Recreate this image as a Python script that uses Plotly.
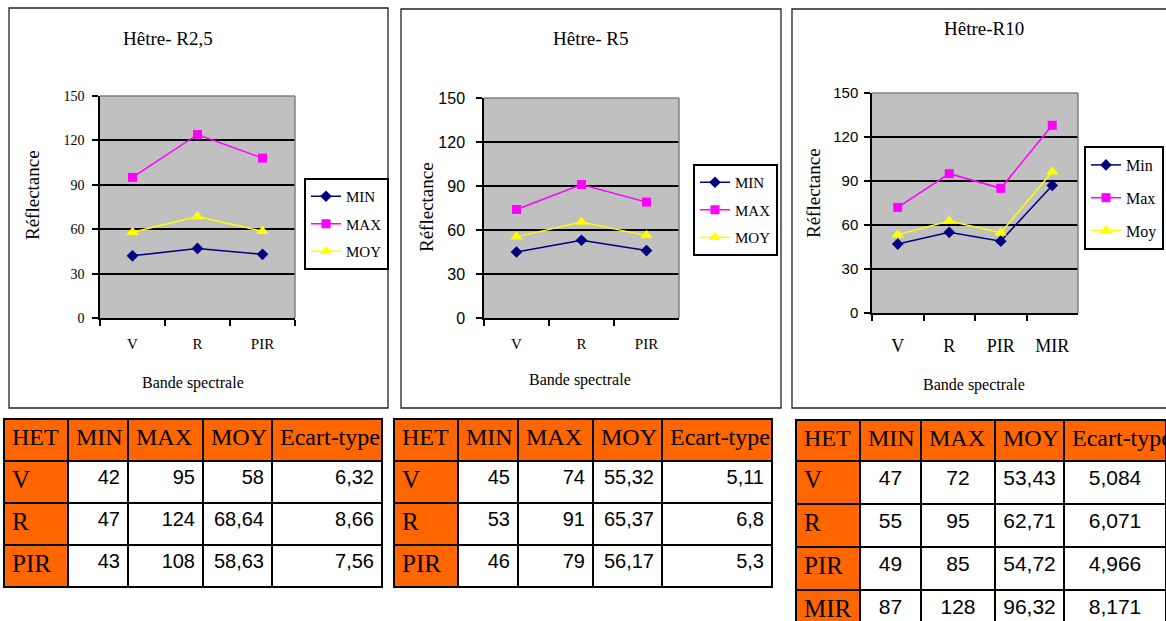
import plotly.graph_objects as go

# ---------------- data ----------------
titles = ["Hêtre- R2,5", "Hêtre- R5", "Hêtre-R10"]

cats_r25 = ["V", "R", "PIR"]
min_r25 = [42, 47, 43]
max_r25 = [95, 124, 108]
moy_r25 = [58, 68.64, 58.63]
et_r25 = [6.32, 8.66, 7.56]

cats_r5 = ["V", "R", "PIR"]
min_r5 = [45, 53, 46]
max_r5 = [74, 91, 79]
moy_r5 = [55.32, 65.37, 56.17]
et_r5 = [5.11, 6.8, 5.3]

cats_r10 = ["V", "R", "PIR", "MIR"]
min_r10 = [47, 55, 49, 87]
max_r10 = [72, 95, 85, 128]
moy_r10 = [53.43, 62.71, 54.72, 96.32]
et_r10 = [5.084, 6.071, 4.966, 8.171]

names_upper = ["MIN", "MAX", "MOY"]
names_title = ["Min", "Max", "Moy"]
table_header = ["HET", "MIN", "MAX", "MOY", "Ecart-type"]
y_ticks = [0, 30, 60, 90, 120, 150]

# ---------------- geometry / style ----------------
W, H = 1166, 621
def X(px): return px / W
def Y(py): return 1 - py / H

SERIF = "Liberation Serif"
SANS = "Liberation Sans"
ORANGE = "#FF6600"
GRAY_BG = "#C0C0C0"
colors = ["#000080", "#FF00FF", "#FFFF00"]
symbols = ["diamond", "square", "triangle-up"]
msizes = [9, 9, 11]

panels = [
    dict(cats=cats_r25, s=[min_r25, max_r25, moy_r25], names=names_upper,
         plot=(100, 295, 96, 318), box=(9, 388, 8, 408),
         title=(168, 38), ytitle=(32, 195), xtitle=(193, 383),
         legend=(304, 178), ytickfont=SERIF, ytfs=14, xtfs=15, xstand=11,
         ystand=5, lfs=15, lgap=5, tfs=19),
    dict(cats=cats_r5, s=[min_r5, max_r5, moy_r5], names=names_upper,
         plot=(484, 679, 98, 318), box=(401, 781, 9, 408),
         title=(590, 38), ytitle=(427, 207), xtitle=(580, 380),
         legend=(693, 164), ytickfont=SANS, ytfs=16, xtfs=15, xstand=11,
         ystand=8, lfs=15, lgap=5, tfs=19),
    dict(cats=cats_r10, s=[min_r10, max_r10, moy_r10], names=names_title,
         plot=(872, 1078, 93, 313), box=(792, 1175, 9, 408),
         title=(984, 29), ytitle=(813, 193), xtitle=(974, 385),
         legend=(1084, 146), ytickfont=SANS, ytfs=15, xtfs=18, xstand=16,
         ystand=3, lfs=16, lgap=9, tfs=19),
]

fig = go.Figure()
shapes = []
annotations = []

def label(text, px, py, size, angle=0):
    return dict(text=text, x=X(px), y=Y(py), xref="paper", yref="paper",
                xanchor="center", yanchor="middle", showarrow=False,
                textangle=angle,
                font=dict(family=SERIF, size=size, color="black"))

for i, p in enumerate(panels):
    k = "" if i == 0 else str(i + 1)
    xa, ya = "x" + k, "y" + k
    leg = "legend" + k
    for j in range(3):
        fig.add_trace(go.Scatter(
            x=p["cats"], y=p["s"][j], name=p["names"][j],
            mode="lines+markers", xaxis=xa, yaxis=ya, legend=leg,
            legendgroup=f"g{i}{j}",
            line=dict(color=colors[j], width=1.5),
            marker=dict(symbol=symbols[j], size=msizes[j], color=colors[j]),
        ))
    x0, x1, y0, y1 = p["plot"]
    n = len(p["cats"])
    fig.layout["xaxis" + k] = dict(
        domain=[X(x0), X(x1)], anchor=ya, type="category",
        range=[-0.5, n - 0.5], tickson="boundaries", ticks="outside",
        ticklen=6, tickcolor="black", tickwidth=1.5, showline=True,
        linecolor="black", linewidth=1.5, showgrid=False,
        tickfont=dict(family=SERIF, size=p["xtfs"], color="black"),
        ticklabelstandoff=p["xstand"], fixedrange=True)
    fig.layout["yaxis" + k] = dict(
        domain=[Y(y1), Y(y0)], anchor=xa, range=[0, 150],
        tickvals=y_ticks, ticks="outside", ticklen=6, tickcolor="black",
        tickwidth=1.5, showline=True, linecolor="black", linewidth=1.5,
        showgrid=True, gridcolor="black", gridwidth=1.5, zeroline=False,
        tickfont=dict(family=p["ytickfont"], size=p["ytfs"], color="black"),
        ticklabelstandoff=p["ystand"], fixedrange=True)
    lx, ly = p["legend"]
    fig.layout[leg] = dict(
        x=X(lx), y=Y(ly), xanchor="left", yanchor="top",
        bgcolor="white", bordercolor="black", borderwidth=2,
        font=dict(family=SERIF, size=p["lfs"], color="black"),
        traceorder="grouped", tracegroupgap=p["lgap"])
    # gray top/right border of the plot area
    shapes.append(dict(type="line", xref=xa + " domain", yref=ya + " domain",
                       x0=0, x1=1, y0=1, y1=1,
                       line=dict(color="#808080", width=1.5), layer="above"))
    shapes.append(dict(type="line", xref=xa + " domain", yref=ya + " domain",
                       x0=1, x1=1, y0=0, y1=1,
                       line=dict(color="#808080", width=1.5), layer="above"))
    # panel frame
    bx0, bx1, by0, by1 = p["box"]
    shapes.append(dict(type="rect", xref="paper", yref="paper",
                       x0=X(bx0), x1=X(bx1), y0=Y(by1), y1=Y(by0),
                       line=dict(color="#222222", width=1.3), layer="below"))
    annotations.append(label(titles[i], *p["title"], p["tfs"]))
    annotations.append(label("Réflectance", *p["ytitle"], 19, -90))
    annotations.append(label("Bande spectrale", *p["xtitle"], 16))

# ---------------- tables ----------------
def fr(v):
    return f"{v:g}".replace(".", ",")

tables = [
    dict(cats=cats_r25, cols=[min_r25, max_r25, moy_r25, et_r25],
         x=(4, 382), y=(419, 588), widths=[64, 60, 75, 69, 110],
         align="right", fs=20, hh=42, ch=42),
    dict(cats=cats_r5, cols=[min_r5, max_r5, moy_r5, et_r5],
         x=(394, 772), y=(419, 588), widths=[64, 60, 75, 69, 110],
         align="right", fs=20, hh=42, ch=42),
    dict(cats=cats_r10, cols=[min_r10, max_r10, moy_r10, et_r10],
         x=(796, 1166), y=(420, 621), widths=[64, 61, 74, 69, 102],
         align="center", fs=21, hh=41, ch=43),
]

for t in tables:
    n = len(t["cats"])
    values = [t["cats"]] + [[fr(v) for v in c] for c in t["cols"]]
    fig.add_trace(go.Table(
        domain=dict(x=[X(t["x"][0]), X(t["x"][1])],
                    y=[Y(t["y"][1]), Y(t["y"][0])]),
        columnwidth=t["widths"],
        header=dict(values=table_header, fill_color=ORANGE, align="left",
                    height=t["hh"], line=dict(color="black", width=1.5),
                    font=dict(family=SERIF, size=24, color="black")),
        cells=dict(values=values,
                   fill_color=[[ORANGE] * n] + [["white"] * n] * 4,
                   align=["left"] + [t["align"]] * 4,
                   height=t["ch"], line=dict(color="black", width=1.5),
                   font=dict(family=[SERIF] + [SANS] * 4,
                             size=[25] + [t["fs"]] * 4,
                             color="black")),
    ))

fig.update_layout(
    width=W, height=H, margin=dict(l=0, r=0, t=0, b=0, autoexpand=False),
    paper_bgcolor="white", plot_bgcolor=GRAY_BG,
    shapes=shapes, annotations=annotations, hovermode=False,
)

fig.write_html("out.html", config=dict(displayModeBar=False),
               post_script="document.body.style.margin='0px';"
                           "document.body.style.overflow='hidden';")
